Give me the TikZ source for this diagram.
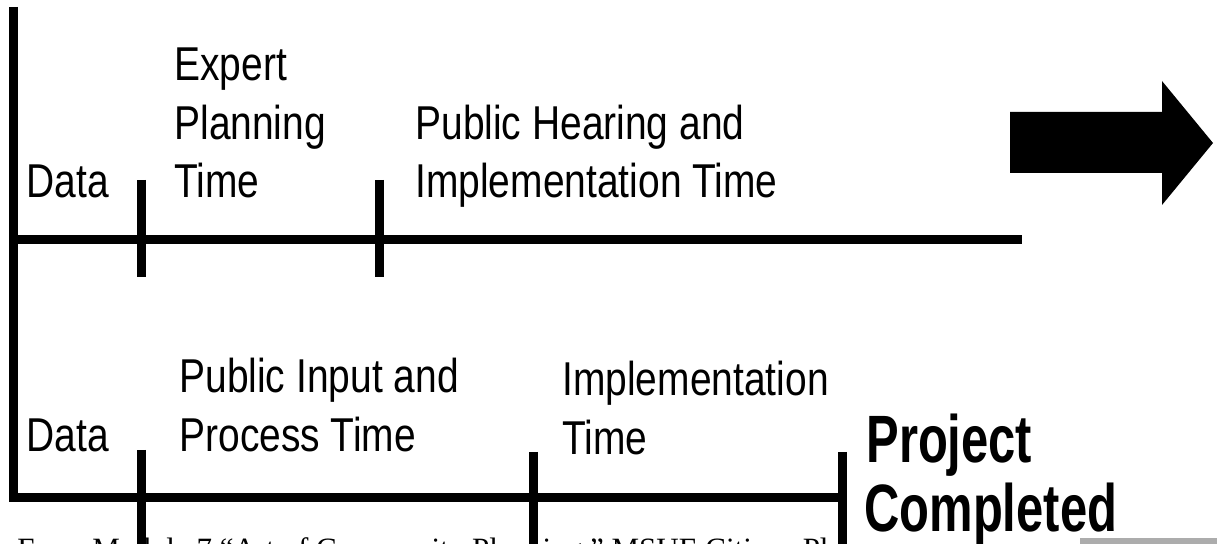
\documentclass[tikz,border=0pt]{standalone}
\usepackage{fontspec}
\setmainfont{Liberation Sans}
\newfontfamily\labelfont{Liberation Sans}[FakeStretch=0.82]
\newfontfamily\donefont{Liberation Sans}[FakeStretch=0.73]
\newfontfamily\notefont{Liberation Serif}
\begin{document}
\begin{tikzpicture}[x=0.5pt,y=-0.5pt,
  bar/.style={line width=4.5pt,line cap=butt},
  lbl/.style={anchor=base west,inner sep=0pt,font=\labelfont\fontsize{23.75pt}{29pt}\selectfont},
  done/.style={anchor=base west,inner sep=0pt,font=\donefont\bfseries\fontsize{33.5pt}{35pt}\selectfont},
  note/.style={anchor=base west,inner sep=0pt,font=\notefont\fontsize{15.5pt}{18pt}\selectfont}]
\useasboundingbox (0,0) rectangle (1217,544);
% source line, cut off at the bottom
\begin{scope}
\clip (0,0) rectangle (842,544);
\node[note] (src) at (17,560) {From Module 7 “Art of Community Planning,” MSUE Citizen Planner};
\end{scope}
% coordinates
\coordinate (spineTop) at (13,7);
\coordinate (corner) at (13,498);
\coordinate (topStart) at (13,240);
\coordinate (topEnd) at (1022,240);
\coordinate (botEnd) at (843,498);
% spine and bottom timeline
\draw[bar,line join=miter] (spineTop) -- (corner) -- (botEnd);
% top timeline
\draw[bar] (topStart) -- (topEnd);
% top ticks
\coordinate (t1a) at (141,180); \coordinate (t1b) at (141,277);
\coordinate (t2a) at (379,180); \coordinate (t2b) at (379,277);
\draw[bar] (t1a) -- (t1b);
\draw[bar] (t2a) -- (t2b);
% bottom ticks
\coordinate (b1a) at (141,450); \coordinate (b1b) at (141,550);
\coordinate (b2a) at (533,452); \coordinate (b2b) at (533,550);
\coordinate (b3a) at (842,452); \coordinate (b3b) at (842,550);
\draw[bar] (b1a) -- (b1b);
\draw[bar] (b2a) -- (b2b);
\draw[bar] (b3a) -- (b3b);
% big arrow
\fill (1010,112) -- (1162,112) -- (1162,81) -- (1213,143) -- (1162,205) -- (1162,173) -- (1010,173) -- cycle;
% grey scan patch
\fill[gray!65] (1080,538) rectangle (1217,544);
% top labels
\node[lbl] (d1) at (26,198) {Data};
\node[lbl] (e1) at (174,81) {Expert};
\node[lbl] (e2) at (174,140) {Planning};
\node[lbl] (e3) at (174,198) {Time};
\node[lbl] (h1) at (415,140) {Public Hearing and};
\node[lbl] (h2) at (415,198) {Implementation Time};
% bottom labels
\node[lbl] (d2) at (26,452) {Data};
\node[lbl] (p1) at (179,393) {Public Input and};
\node[lbl] (p2) at (179,452) {Process Time};
\node[lbl] (i1) at (562,396) {Implementation};
\node[lbl] (i2) at (562,455) {Time};
\node[done] (c1) at (866,463) {Project};
\node[done] (c2) at (864,532) {Completed};
\end{tikzpicture}
\end{document}
